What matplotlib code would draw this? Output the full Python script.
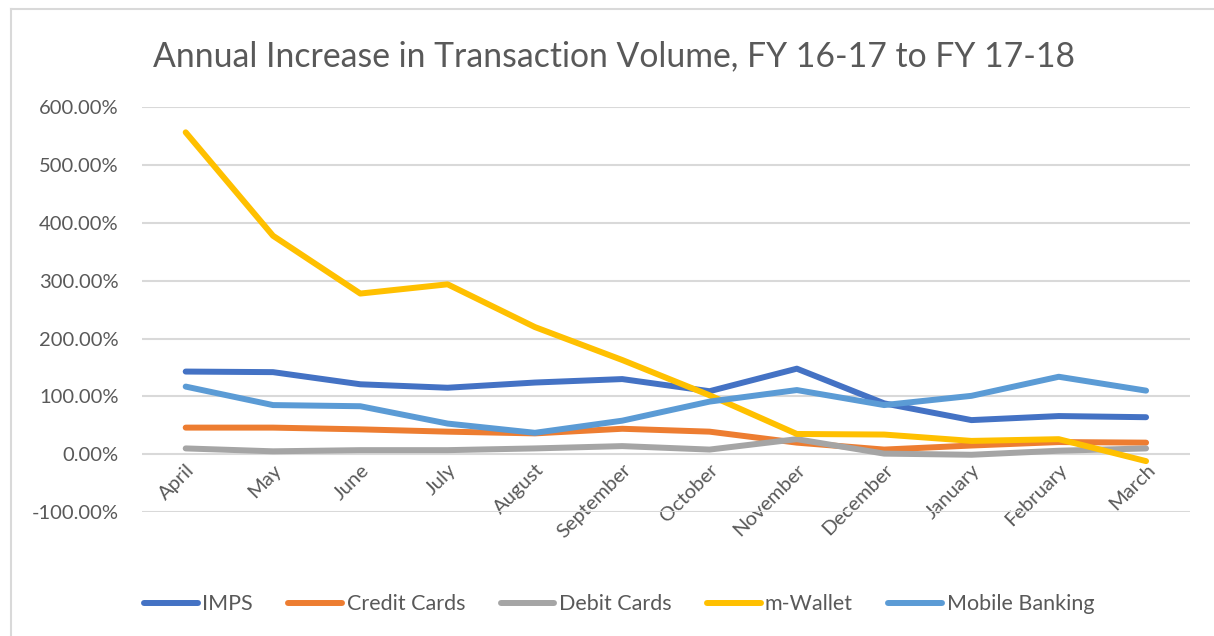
import matplotlib
matplotlib.use("Agg")
import matplotlib.pyplot as plt
from matplotlib.lines import Line2D
from matplotlib.ticker import FuncFormatter

months = ["April", "May", "June", "July", "August", "September",
          "October", "November", "December", "January", "February", "March"]

imps = [143, 142, 121, 115, 124, 130, 109, 148, 88, 59, 66, 64]
credit_cards = [46, 46, 43, 39, 36, 44, 39, 20, 8, 15, 21, 20]
debit_cards = [10, 5, 7, 7, 10, 14, 8, 26, 1, -1, 6, 10]
m_wallet = [557, 378, 278, 294, 220, 163, 102, 35, 34, 23, 26, -12]
mobile_banking = [117, 85, 83, 53, 37, 58, 91, 111, 85, 101, 134, 110]

series = [
    ("IMPS", imps, "#4472C4"),
    ("Credit Cards", credit_cards, "#ED7D31"),
    ("Debit Cards", debit_cards, "#A5A5A5"),
    ("m-Wallet", m_wallet, "#FFC000"),
    ("Mobile Banking", mobile_banking, "#5B9BD5"),
]

plt.rcParams["font.family"] = ["Lato", "DejaVu Sans"]
text_color = "#595959"

fig = plt.figure(figsize=(12.14, 6.36), dpi=100)
ax = fig.add_axes([0.117, 0.195, 0.863, 0.636])

x = list(range(len(months)))
for name, vals, color in series:
    ax.plot(x, vals, color=color, lw=4.3, solid_capstyle="round",
            solid_joinstyle="round", label=name)

ax.set_xlim(-0.5, len(months) - 0.5)
ax.set_ylim(-100, 600)
ax.set_yticks(range(-100, 601, 100))
ax.yaxis.set_major_formatter(FuncFormatter(lambda v, p: f"{v:.2f}%"))
ax.grid(axis="y", color="#D9D9D9", lw=1.5)
ax.set_axisbelow(True)

for s in ["top", "right", "left"]:
    ax.spines[s].set_visible(False)
# category axis crosses at zero, like Excel
ax.spines["bottom"].set_position(("data", 0))
ax.spines["bottom"].set_visible(False)

ax.set_xticks(x)
ax.set_xticklabels(months, rotation=45, ha="right", rotation_mode="anchor")
ax.tick_params(axis="x", length=0, pad=5, labelsize=14.5, labelcolor=text_color)
ax.tick_params(axis="y", length=0, pad=17, labelsize=14.5, labelcolor=text_color)

fig.text(0.506, 0.912, "Annual Increase in Transaction Volume, FY 16-17 to FY 17-18",
         ha="center", va="center", fontsize=24.3, color=text_color)

handles = [Line2D([], [], color=c, lw=4.3, solid_capstyle="round") for _, _, c in series]
fig.legend(handles, [n for n, _, _ in series], loc="center", ncol=5,
           bbox_to_anchor=(0.51, 0.05), frameon=False, fontsize=15.5,
           handlelength=2.5, columnspacing=1.65, handletextpad=0.2,
           labelcolor=text_color)

# chart-area border (top and left edges visible)
fig.add_artist(Line2D([11 / 1214, 1], [1 - 9 / 636, 1 - 9 / 636],
                      transform=fig.transFigure, color="#D9D9D9", lw=1.5))
fig.add_artist(Line2D([11 / 1214, 11 / 1214], [0, 1 - 9 / 636],
                      transform=fig.transFigure, color="#D9D9D9", lw=1.5))

fig.savefig("out.png", dpi=100, facecolor="white")
